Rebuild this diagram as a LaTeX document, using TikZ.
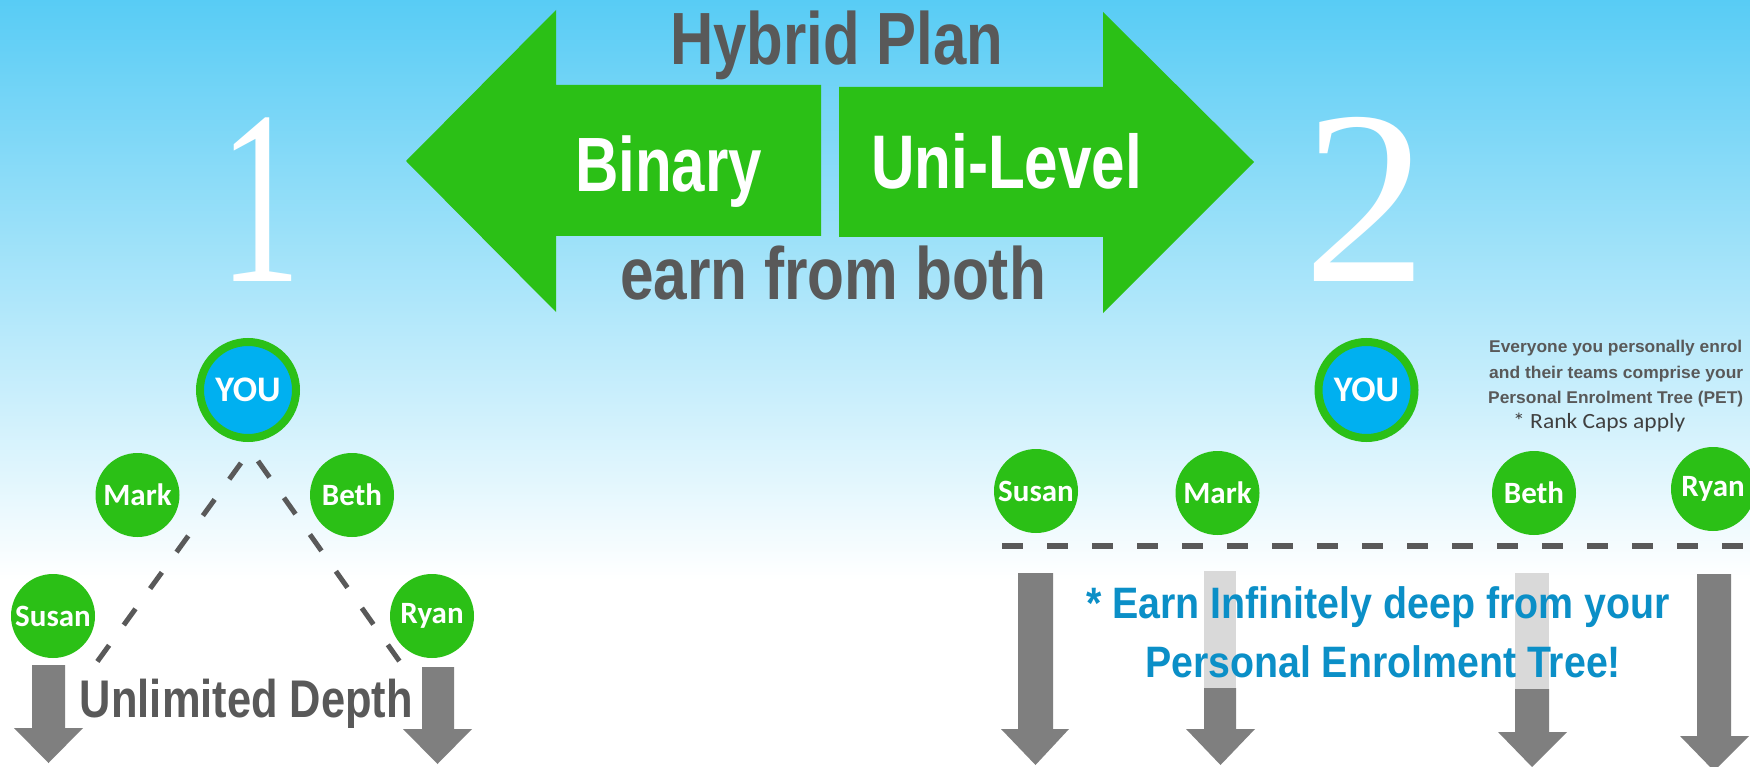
\documentclass[tikz,border=0pt]{standalone}
\usepackage{fontspec}
\usepackage{graphicx}
\setmainfont{Liberation Sans}
\newfontfamily\arialf{Liberation Sans}
\newfontfamily\calf{Carlito}
\newfontfamily\timesf{Liberation Serif}
\definecolor{bgtop}{RGB}{88,204,245}
\definecolor{grn}{RGB}{43,192,22}
\definecolor{youblue}{RGB}{0,176,240}
\definecolor{dgray}{RGB}{89,89,89}
\definecolor{agray}{RGB}{127,127,127}
\definecolor{lgray}{RGB}{217,217,217}
\definecolor{tblue}{RGB}{11,143,199}
\definecolor{rgray}{RGB}{64,64,64}
\newcommand\fitt[3]{\resizebox{#1}{\height}{\fontsize{#2}{#2}\selectfont #3}}
\begin{document}
\begin{tikzpicture}[x=1pt,y=-1pt,
  person/.style={circle, fill=grn, text=white, minimum size=84pt, inner sep=0pt,
    font=\calf\bfseries\fontsize{31}{31}\selectfont},
  you/.style={circle, fill=youblue, draw=grn, line width=8pt, minimum size=96pt,
    inner sep=0pt, text=white, font=\calf\bfseries\fontsize{36}{36}\selectfont},
  txt/.style={inner sep=0pt, anchor=base},
  dashl/.style={draw=dgray, line width=5pt, dash pattern=on 20pt off 25pt},
  garrow/.style={fill=agray},
  larrow/.style={fill=lgray}]
\useasboundingbox (0,0) rectangle (1750,767);
\clip (0,0) rectangle (1750,767);
% background
\shade[top color=bgtop, bottom color=white] (0,0) rectangle (1750,580);
\fill[white] (0,580) rectangle (1750,767);
% big double arrow
\fill[grn] (406,161) -- (556,10) -- (556,85) -- (821,85) -- (821,236) -- (556,236) -- (556,312) -- cycle;
\fill[grn] (1254,162) -- (1103,12) -- (1103,87) -- (839,87) -- (839,237) -- (1103,237) -- (1103,313) -- cycle;
\node[txt, text=dgray, font=\arialf\bfseries] (hyb) at (836.5,65) {\fitt{333pt}{74}{Hybrid Plan}};
\node[txt, text=white, font=\arialf\bfseries] (bin) at (668.5,192) {\fitt{187pt}{77}{Binary}};
\node[txt, text=white, font=\arialf\bfseries] (uni) at (1006.5,189) {\fitt{271pt}{76}{Uni-Level}};
\node[txt, text=dgray, font=\arialf\bfseries] (earn) at (833,299) {\fitt{426pt}{74}{earn from both}};
% numbers
\node[txt, text=white, font=\timesf] (one) at (260,281) {\fitt{82pt}{248}{1}};
\node[txt, text=white, font=\timesf] (two) at (1365,281) {\fontsize{248}{248}\selectfont 2};
% left tree
\coordinate (dl1) at (241,463);
\coordinate (dl2) at (97,662);
\coordinate (dr1) at (258,461);
\coordinate (dr2) at (400,662);
\draw[dashl] (dl1) -- (dl2);
\draw[dashl] (dr1) -- (dr2);
\node[you] (youL) at (248,390) {YOU};
\node[person] (markL) at (137.5,495) {Mark};
\node[person] (bethL) at (352,495) {Beth};
\node[person] (susanL) at (53,616) {Susan};
\node[person] (ryanL) at (432,616) {Ryan};
\fill[garrow] (32,665) -- (65,665) -- (65,728) -- (83,728) -- (48.5,763) -- (14,728) -- (32,728) -- cycle;
\fill[garrow] (422,667) -- (454,667) -- (454,729) -- (472,729) -- (437.5,764) -- (403,729) -- (422,729) -- cycle;
\node[txt, text=dgray, font=\arialf\bfseries] (unl) at (246.5,717) {\fitt{333pt}{53}{Unlimited Depth}};
% right tree
\node[you] (youR) at (1366.5,390) {YOU};
\node[person] (susanR) at (1036,491) {Susan};
\node[person] (markR) at (1217.5,493) {Mark};
\node[person] (bethR) at (1534,493) {Beth};
\node[person] (ryanR) at (1713,489) {Ryan};
\coordinate (hl1) at (1002,546);
\coordinate (hl2) at (1760,546);
\draw[draw=dgray, line width=5.5pt, dash pattern=on 21pt off 24pt] (hl1) -- (hl2);
% right arrows
\fill[garrow] (1018,573) -- (1053,573) -- (1053,729) -- (1069,729) -- (1035.5,765) -- (1001,729) -- (1018,729) -- cycle;
\fill[larrow] (1204,571) rectangle (1236,688);
\fill[garrow] (1204,688) -- (1236,688) -- (1236,729) -- (1255,729) -- (1220.5,765) -- (1186,729) -- (1204,729) -- cycle;
\fill[larrow] (1515,573) rectangle (1549,689);
\fill[garrow] (1515,689) -- (1549,689) -- (1549,732) -- (1567,732) -- (1532,767) -- (1498,732) -- (1515,732) -- cycle;
\fill[garrow] (1697,574) -- (1731,574) -- (1731,736) -- (1749,736) -- (1714,771) -- (1680,736) -- (1697,736) -- cycle;
\node[txt, text=tblue, font=\arialf\bfseries] (earn1) at (1378,618) {\fitt{584pt}{44}{* Earn Infinitely deep from your}};
\node[txt, text=tblue, font=\arialf\bfseries] (earn2) at (1383,677) {\fitt{476pt}{44}{Personal Enrolment Tree!}};
% top right note
\node[txt, anchor=base west, text=dgray, font=\arialf\bfseries] (n1) at (1489,352) {\fitt{253pt}{17}{Everyone you personally enrol}};
\node[txt, anchor=base west, text=dgray, font=\arialf\bfseries] (n2) at (1489,378) {\fitt{254pt}{17}{and their teams comprise your}};
\node[txt, anchor=base west, text=dgray, font=\arialf\bfseries] (n3) at (1488,403) {\fitt{255pt}{17}{Personal Enrolment Tree (PET)}};
\node[txt, anchor=base west, text=rgray, font=\calf] (n4) at (1513,428) {\fitt{172pt}{21.7}{* Rank Caps apply}};
\end{tikzpicture}
\end{document}
